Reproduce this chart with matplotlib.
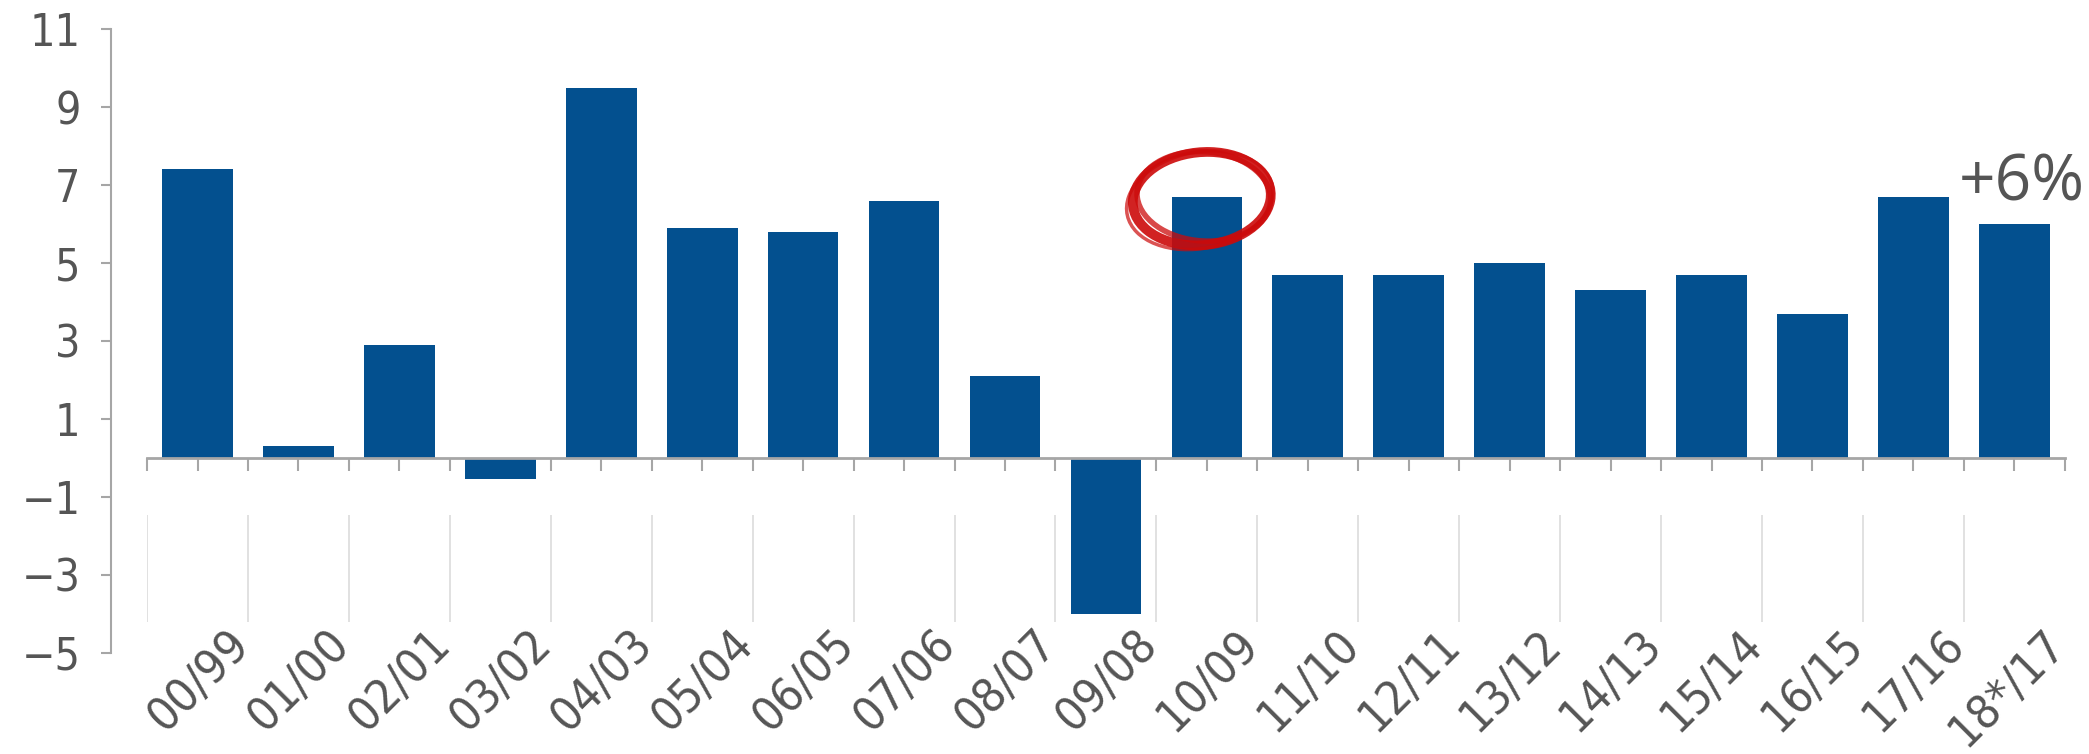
import matplotlib.pyplot as plt
from matplotlib.patches import Ellipse
import numpy as np

# data
seasons = ['00/99', '01/00', '02/01', '03/02', '04/03', '05/04', '06/05', '07/06', '08/07', '09/08',
           '10/09', '11/10', '12/11', '13/12', '14/13', '15/14', '16/15', '17/16', '18*/17']
growth = [7.4, 0.3, 2.9, -0.55, 9.5, 5.9, 5.8, 6.6, 2.1, -4.0,
          6.7, 4.7, 4.7, 5.0, 4.3, 4.7, 3.7, 6.7, 6.0]
yticks = [11, 9, 7, 5, 3, 1, -1, -3, -5]
highlight = 10          # bar that gets the red circle
last_label = '+6%'

bar_color = '#03508f'
grey = '#555555'
line_grey = '#a6a6a6'

fig = plt.figure(figsize=(20.89, 7.54), dpi=100)
ax = fig.add_axes([0.0704, 0.134, 0.918, 0.8275])

x = np.arange(len(seasons))
ax.bar(x, growth, width=0.70, color=bar_color, zorder=2)

ax.set_xlim(-0.5, len(seasons) - 0.5)
ax.set_ylim(-5, 11)

# y axis sits a bit left of the category axis
for s in ['top', 'right']:
    ax.spines[s].set_visible(False)
ax.spines['left'].set_position(('outward', 26))
ax.spines['left'].set_bounds(-5, 11)
ax.spines['left'].set_color(line_grey)
ax.spines['left'].set_linewidth(1.5)
ax.set_yticks(yticks)
ax.set_yticklabels([str(v).replace('-', '\u2212') for v in yticks])
ax.tick_params(axis='y', direction='out', length=7, width=1.5, color=line_grey,
               labelsize=32, labelcolor=grey, pad=15)

# category axis on the zero line, ticks at centres and boundaries
ax.spines['bottom'].set_position(('data', 0))
ax.spines['bottom'].set_color(line_grey)
ax.spines['bottom'].set_linewidth(2)
ax.set_xticks(x)
ax.set_xticks(np.arange(len(seasons) + 1) - 0.5, minor=True)
ax.tick_params(axis='x', which='both', direction='out', length=9, width=1.5,
               color=line_grey, labelbottom=False)

# faint separators in the label band
ax.vlines(np.arange(len(seasons)) - 0.5, -4.2, -1.45, color='#dcdcdc', lw=1.2, zorder=1)

for i, lab in enumerate(seasons):
    ax.text(i + 0.28, -4.2, lab, rotation=45, ha='right', va='top',
            rotation_mode='anchor', fontsize=34, color=grey,
            family='DejaVu Sans', stretch='condensed')

for lab in ax.get_yticklabels():
    lab.set_family('DejaVu Sans')
    lab.set_stretch('condensed')

# annotation on the last bar
ax.text(len(seasons) - 1 - 0.55, growth[-1] + 1.05, last_label, ha='left', va='center',
        fontsize=46, color=grey, family='Open Sans')

# hand-drawn red circle around the 10/09 bar top
cx, cy = highlight - 0.05, growth[highlight] - 0.05
for dx, dy, w, h, ang, lw, a in [(0, 0, 1.36, 2.4, -4, 7, 0.9),
                                  (0.02, 0.06, 1.32, 2.3, 3, 4, 0.75),
                                  (-0.02, -0.04, 1.42, 2.55, -8, 2.5, 0.7)]:
    ax.add_patch(Ellipse((cx + dx, cy + dy), w, h, angle=ang, fill=False,
                         ec='#cc0a0a', lw=lw, alpha=a, zorder=3))

plt.savefig('out.png', dpi=100)
